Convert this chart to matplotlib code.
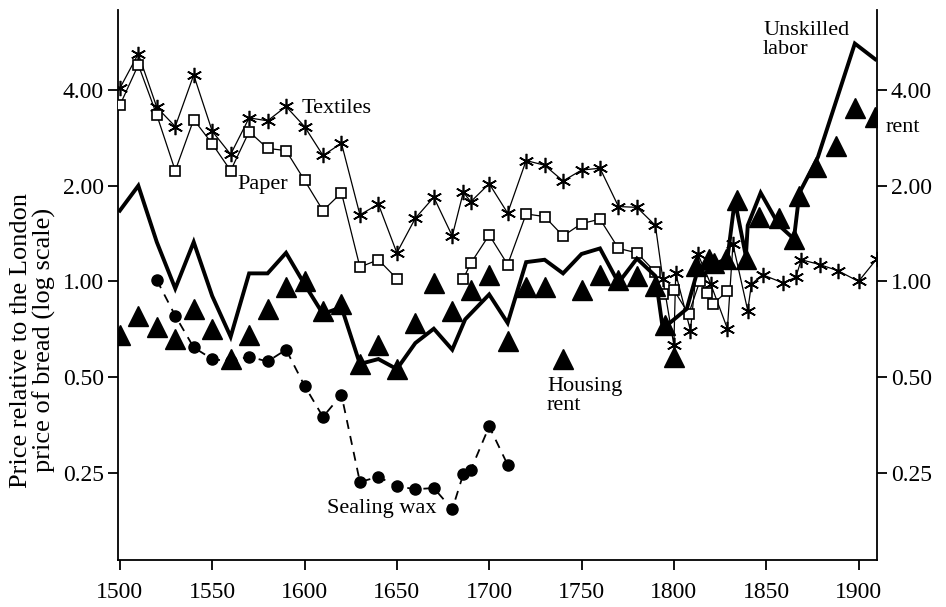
import matplotlib
matplotlib.use("Agg")
import matplotlib.pyplot as plt
from matplotlib.ticker import FixedLocator, FixedFormatter, NullLocator

plt.rcParams['font.family'] = ['Liberation Serif', 'DejaVu Serif']

# --- data (price relative to London bread, log scale) ---
textile_years = [1500, 1510, 1520, 1530, 1540, 1550, 1560, 1570, 1580, 1590,
                 1600, 1610, 1620, 1630, 1640, 1650, 1660, 1670, 1680, 1686,
                 1690, 1700, 1710, 1720, 1730, 1740, 1750, 1760, 1770, 1780,
                 1790, 1794, 1800, 1801, 1809, 1813, 1820, 1829, 1832, 1840,
                 1842, 1848, 1859, 1866, 1869, 1879, 1889, 1900, 1910]
textile_vals = [4.05, 5.2, 3.53, 3.07, 4.46, 2.97, 2.51, 3.27, 3.2, 3.55,
                3.07, 2.49, 2.72, 1.62, 1.75, 1.23, 1.58, 1.84, 1.39, 1.91,
                1.78, 2.03, 1.64, 2.4, 2.32, 2.07, 2.24, 2.27, 1.72, 1.71,
                1.5, 1.02, 0.63, 1.06, 0.70, 1.22, 0.98, 0.71, 1.31, 0.81,
                0.98, 1.05, 0.99, 1.03, 1.17, 1.13, 1.08, 1.0, 1.18]

paper_years = [1500, 1510, 1520, 1530, 1540, 1550, 1560, 1570, 1580, 1590,
               1600, 1610, 1620, 1630, 1640, 1650, None, 1686, 1690, 1700,
               1710, 1720, 1730, 1740, 1750, 1760, 1770, 1780, 1790, 1794,
               1800, 1808, 1814, 1818, 1821, 1829]
paper_vals = [3.58, 4.8, 3.34, 2.23, 3.23, 2.71, 2.23, 2.96, 2.62, 2.58,
              2.08, 1.67, 1.9, 1.11, 1.17, 1.02, None, 1.02, 1.14, 1.4,
              1.13, 1.63, 1.6, 1.39, 1.52, 1.57, 1.27, 1.23, 1.07, 0.91,
              0.94, 0.79, 1.0, 0.92, 0.85, 0.93]

labor_years = [1500, 1510, 1520, 1530, 1540, 1550, 1560, 1570, 1580, 1590,
               1600, 1610, 1620, 1630, 1640, 1650, 1660, 1670, 1680, 1687,
               1700, 1710, 1720, 1730, 1740, 1750, 1760, 1770, 1780, 1790,
               1794, 1807, 1813, 1823, 1829, 1833, 1839, 1840, 1847, 1857,
               1865, 1868, 1878, 1898, 1909]
labor_vals = [1.67, 2.0, 1.33, 0.95, 1.33, 0.90, 0.67, 1.06, 1.06, 1.23,
              0.98, 0.79, 0.83, 0.55, 0.57, 0.53, 0.64, 0.71, 0.61, 0.76,
              0.91, 0.74, 1.15, 1.17, 1.06, 1.22, 1.27, 0.99, 1.18, 1.04,
              0.71, 0.82, 1.09, 1.14, 1.18, 1.8, 1.2, 1.5, 1.9, 1.5,
              1.36, 1.9, 2.46, 5.6, 5.0]

rent_years = [1500, 1510, 1520, 1530, 1540, 1550, 1560, 1570, 1580, 1590,
              1600, 1610, 1620, 1630, 1640, 1650, 1660, 1670, 1680, 1690,
              1700, 1710, 1720, 1730, 1740, 1750, 1760, 1770, 1780, 1790,
              1795, 1800, 1812, 1819, 1822, 1828, 1834, 1839, 1846, 1857,
              1865, 1868, 1877, 1888, 1898, 1909]
rent_vals = [0.68, 0.78, 0.72, 0.66, 0.82, 0.71, 0.57, 0.68, 0.82, 0.96,
             1.0, 0.81, 0.85, 0.55, 0.63, 0.53, 0.74, 0.99, 0.81, 0.94,
             1.05, 0.65, 0.96, 0.96, 0.57, 0.94, 1.05, 1.01, 1.04, 0.97,
             0.73, 0.58, 1.12, 1.18, 1.14, 1.18, 1.8, 1.18, 1.6, 1.58,
             1.36, 1.85, 2.29, 2.67, 3.5, 3.28]

wax_years = [1520, 1530, 1540, 1550, 1560, 1570, 1580, 1590, 1600, 1610,
             1620, 1630, 1640, 1650, 1660, 1670, 1680, 1686, 1690, 1700, 1710]
wax_vals = [1.01, 0.78, 0.62, 0.57, 0.56, 0.58, 0.56, 0.61, 0.47, 0.375,
            0.44, 0.234, 0.243, 0.227, 0.222, 0.224, 0.192, 0.248, 0.255, 0.35, 0.265]

ytick_vals = [0.25, 0.5, 1.0, 2.0, 4.0]
ytick_labels = ['0.25', '0.50', '1.00', '2.00', '4.00']
xtick_vals = [1500, 1550, 1600, 1650, 1700, 1750, 1800, 1850, 1900]

W, H = 946, 607
fig = plt.figure(figsize=(W / 100, H / 100), dpi=100)
ax = fig.add_axes([118 / W, 1 - 560 / H, 759 / W, 550 / H])
ax.set_yscale('log')

def clean(xs, ys):
    return ([float('nan') if v is None else v for v in xs],
            [float('nan') if v is None else v for v in ys])

tx, ty = clean(textile_years, textile_vals)
ax.plot(tx, ty, color='black', lw=0.9, marker=(6, 2, 0), ms=11, mew=1.2, zorder=3)
px, py = clean(paper_years, paper_vals)
ax.plot(px, py, color='black', lw=0.9, marker='s', ms=7, mfc='white', mec='black',
        mew=1.2, zorder=4)
ax.plot(labor_years, labor_vals, color='black', lw=2.8, zorder=5, solid_joinstyle='miter')
ax.plot(rent_years, rent_vals, ls='none', marker='^', ms=14, color='black', zorder=6)
ax.plot(wax_years, wax_vals, color='black', lw=1.3, ls=(0, (5, 4)), marker='o', ms=8,
        zorder=6)

ax.set_xlim(1499, 1910)
ax.set_ylim(0.133, 7.14)

ax.yaxis.set_major_locator(FixedLocator(ytick_vals))
ax.yaxis.set_major_formatter(FixedFormatter(ytick_labels))
ax.yaxis.set_minor_locator(NullLocator())
ax.set_xticks(xtick_vals)
ax.set_xticklabels([str(v) for v in xtick_vals])

ax.spines['top'].set_visible(False)
for s in ['left', 'right', 'bottom']:
    ax.spines[s].set_linewidth(1.3)
ax.tick_params(axis='y', which='major', left=True, right=True, labelleft=True,
               labelright=True, direction='out', length=7, width=1.3, pad=3,
               labelsize=17)
ax.tick_params(axis='x', direction='out', length=7, width=1.3, pad=9, labelsize=17)

fig.text(33 / W, 1 - 340 / H, 'Price relative to the London\nprice of bread (log scale)',
         rotation=90, ha='center', va='center', fontsize=19, linespacing=1.0)

def lab(x, y, s, **kw):
    fig.text(x / W, 1 - y / H, s, ha='left', va='center', fontsize=16,
             linespacing=0.95, **kw)

lab(302, 108, 'Textiles')
lab(237, 185, 'Paper')
lab(763, 40, 'Unskilled\nlabor')
lab(886, 128, 'rent')
lab(547, 396, 'Housing\nrent')
lab(327, 509, 'Sealing wax')

fig.savefig('out.png', dpi=100)
